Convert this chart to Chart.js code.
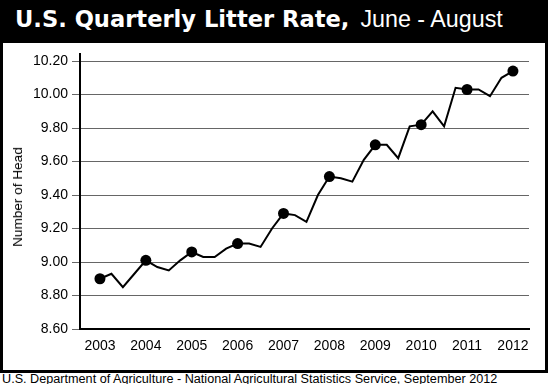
<!DOCTYPE html>
<html>
<head>
<meta charset="utf-8">
<script src="https://cdn.jsdelivr.net/npm/chart.js@4/dist/chart.umd.min.js"></script>
<style>
  html, body { margin: 0; padding: 0; background: #fff; }
  body { width: 550px; height: 384px; position: relative; overflow: hidden; }
  #frame { position: absolute; left: 0; top: 0; width: 548px; height: 373px; border: 3px solid #000; box-sizing: border-box; background: #fff; }
  #titlebar { position: absolute; left: 0; top: 0; width: 542px; height: 40px; background: #000; color: #fff; white-space: nowrap; }
  #titletext { position: absolute; left: 12px; top: 0; line-height: 32px; font-family: "Liberation Sans", Arial, sans-serif; font-size: 23.3px; }
  #titletext .bold { font-family: "DejaVu Sans", sans-serif; font-weight: bold; font-size: 22.6px; }
  #titletext .reg { margin-left: 11px; }
  #chartbox { position: absolute; left: 0; top: 40px; width: 542px; height: 327px; }
  #ytitle { position: absolute; left: 18px; top: 197px; width: 0; height: 0; }
  #ytitle span { position: absolute; left: 0; top: 0; transform: translate(-50%, -50%) rotate(-90deg); font-family: "Liberation Sans", Arial, sans-serif; font-size: 13.6px; line-height: 16px; white-space: nowrap; color: #000; }
  #footer { position: absolute; left: 2px; top: 371.5px; line-height: 15px; font-family: "Liberation Sans", Arial, sans-serif; font-size: 12.65px; color: #000; white-space: nowrap; }
</style>
</head>
<body>
<div id="frame">
  <div id="titlebar"><div id="titletext"><span class="bold">U.S. Quarterly Litter Rate,</span><span class="reg">June - August</span></div></div>
  <div id="chartbox"><canvas id="c" width="542" height="327"></canvas></div>
</div>
<div id="ytitle"><span>Number of Head</span></div>
<div id="footer">U.S. Department of Agriculture - National Agricultural Statistics Service, September 2012</div>
<script>
// Years shown on the x axis (each marker = June-August quarter of that year)
const years = [2003, 2004, 2005, 2006, 2007, 2008, 2009, 2010, 2011, 2012];
// Quarterly litter rate (number of head), starting June-August 2003, one value per quarter
const litterRate = [
  8.90, 8.93, 8.85, 8.93,
  9.01, 8.97, 8.95, 9.01,
  9.06, 9.03, 9.03, 9.08,
  9.11, 9.11, 9.09, 9.20,
  9.29, 9.28, 9.24, 9.40,
  9.51, 9.50, 9.48, 9.61,
  9.70, 9.70, 9.62, 9.81,
  9.82, 9.90, 9.81, 10.04,
  10.03, 10.03, 9.99, 10.10,
  10.14
];
// Y axis tick labels
const yTicks = [8.6, 8.8, 9.0, 9.2, 9.4, 9.6, 9.8, 10.0, 10.2];

const points = litterRate.map((v, i) => ({ x: years[0] + i / 4, y: v }));
const FONT = '"Liberation Sans", Arial, Helvetica, sans-serif';

new Chart(document.getElementById('c'), {
  type: 'line',
  data: {
    datasets: [{
      data: points,
      borderColor: '#000',
      borderWidth: 2,
      tension: 0,
      fill: false,
      pointRadius: ctx => (ctx.dataIndex % 4 === 0 ? 5.5 : 0),
      pointHoverRadius: ctx => (ctx.dataIndex % 4 === 0 ? 5.5 : 0),
      pointBackgroundColor: '#000',
      pointBorderColor: '#000',
      pointBorderWidth: 0
    }]
  },
  options: {
    responsive: false,
    animation: false,
    devicePixelRatio: 1,
    layout: { padding: { left: 0, top: 11, right: 16, bottom: 0 } },
    plugins: { legend: { display: false }, tooltip: { enabled: false } },
    events: [],
    scales: {
      x: {
        type: 'linear',
        min: 2002.565,
        max: 2012.35,
        afterBuildTicks: s => { s.ticks = years.map(v => ({ value: v })); },
        afterFit: s => { s.height = 41; s.paddingLeft = 0; s.paddingRight = 0; },
        ticks: {
          callback: v => String(v),
          color: '#000',
          font: { family: FONT, size: 14 },
          padding: 9,
          maxRotation: 0,
          autoSkip: false
        },
        grid: { display: false, drawTicks: false },
        border: { display: true, color: '#000', width: 2 }
      },
      y: {
        type: 'linear',
        min: 8.6,
        max: 10.242,
        afterBuildTicks: s => { s.ticks = yTicks.map(v => ({ value: v })); },
        afterFit: s => { s.width = 77; s.paddingTop = 0; s.paddingBottom = 0; },
        ticks: {
          callback: v => Number(v).toFixed(2),
          color: '#000',
          font: { family: FONT, size: 14 },
          padding: 4
        },
        grid: { color: '#666', lineWidth: 1, tickLength: 8, drawTicks: true },
        border: { display: true, color: '#000', width: 2 },
        title: { display: false }
      }
    }
  }
});
</script>
</body>
</html>
